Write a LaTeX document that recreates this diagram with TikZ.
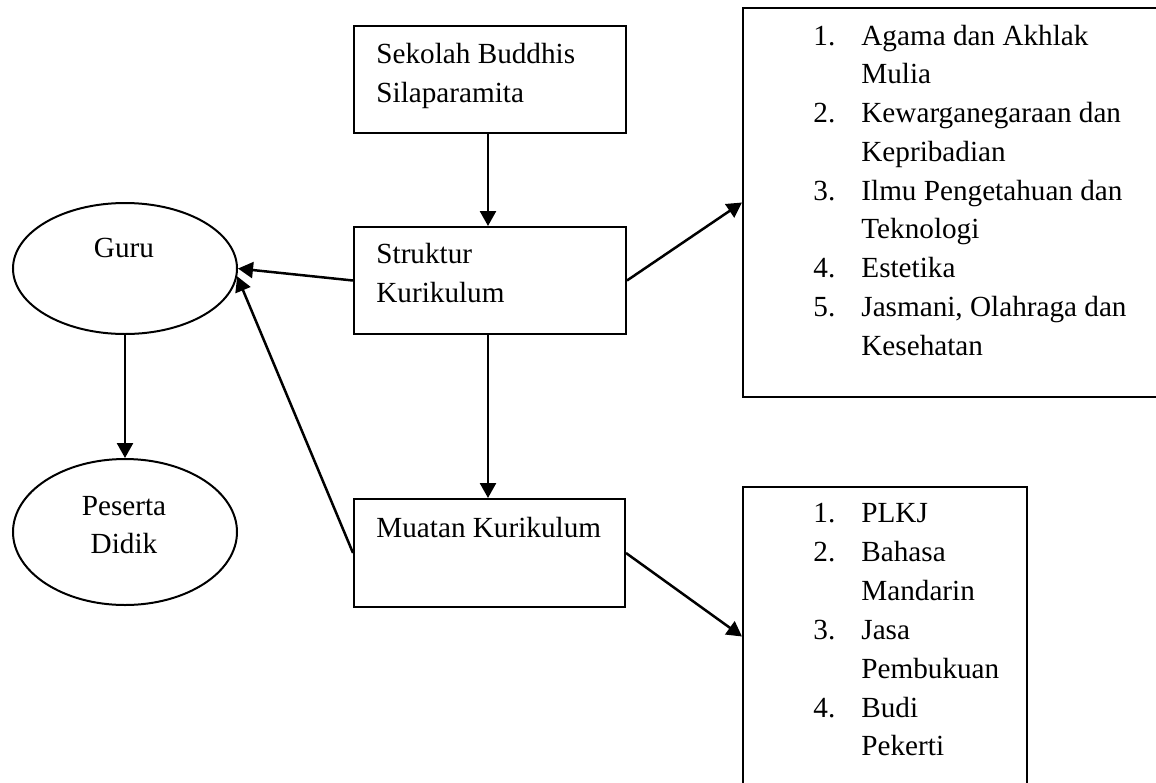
\documentclass[tikz,border=0pt]{standalone}
\usepackage{fontspec}
\setmainfont{Liberation Serif}
\usetikzlibrary{arrows.meta,calc,shapes.geometric}

\tikzset{
  box/.style={draw, line width=1pt, rectangle, inner sep=0pt},
  oval/.style={draw, line width=1pt, ellipse, inner sep=0pt},
  txt/.style={anchor=base west, inner sep=0pt, font=\fontsize{14.6}{19}\selectfont},
  ctxt/.style={anchor=base, inner sep=0pt, font=\fontsize{14.6}{19}\selectfont},
  link/.style={line width=1.25pt, -{Triangle[length=7.5pt,width=8pt]}},
}

\begin{document}
\begin{tikzpicture}[x=0.5pt,y=-0.5pt]
  \useasboundingbox (0,0) rectangle (1156,782);
  \clip (0,0) rectangle (1156,782);

  % boxes
  \node[box, minimum width=136pt, minimum height=53.5pt] (sekolah) at (490,79.5) {};
  \node[box, minimum width=136pt, minimum height=53.5pt] (struktur) at (490,280.5) {};
  \node[box, minimum width=135.5pt, minimum height=54pt] (muatan) at (489.5,553) {};
  \node[box, minimum width=213.5pt, minimum height=194.5pt] (inti) at (956.5,202.5) {};
  \node[box, minimum width=142pt, minimum height=156.5pt] (lokal) at (885,643.5) {};

  % ellipses
  \node[oval, minimum width=112pt, minimum height=65.5pt] (guru) at (125,268.5) {};
  \node[oval, minimum width=112pt, minimum height=73pt] (peserta) at (125,532) {};

  % labels inside boxes
  \node[txt] (t1a) at (376,63) {Sekolah Buddhis};
  \node[txt] (t1b) at (376,102) {Silaparamita};
  \node[txt] (t2a) at (376,263) {Struktur};
  \node[txt] (t2b) at (376,302) {Kurikulum};
  \node[txt] (t3a) at (376,537) {Muatan Kurikulum};

  \node[ctxt] (tg) at (124,257) {Guru};
  \node[ctxt] (tpa) at (124,515) {Peserta};
  \node[ctxt] (tpb) at (124,553) {Didik};

  % core curriculum groups
  \node[txt] (n1) at (813,45) {1.};
  \node[txt] (i1a) at (861,45) {Agama dan Akhlak};
  \node[txt] (i1b) at (861,83.5) {Mulia};
  \node[txt] (n2) at (813,122.5) {2.};
  \node[txt] (i2a) at (861,122.5) {Kewarganegaraan dan};
  \node[txt] (i2b) at (861,161) {Kepribadian};
  \node[txt] (n3) at (813,200) {3.};
  \node[txt] (i3a) at (861,200) {Ilmu Pengetahuan dan};
  \node[txt] (i3b) at (861,238.5) {Teknologi};
  \node[txt] (n4) at (813,277.5) {4.};
  \node[txt] (i4) at (861,277.5) {Estetika};
  \node[txt] (n5) at (813,316) {5.};
  \node[txt] (i5a) at (861,316) {Jasmani, Olahraga dan};
  \node[txt] (i5b) at (861,355) {Kesehatan};

  % local content subjects
  \node[txt] (m1) at (813,522) {1.};
  \node[txt] (j1) at (861,522) {PLKJ};
  \node[txt] (m2) at (813,561) {2.};
  \node[txt] (j2a) at (861,561) {Bahasa};
  \node[txt] (j2b) at (861,600) {Mandarin};
  \node[txt] (m3) at (813,639) {3.};
  \node[txt] (j3a) at (861,639) {Jasa};
  \node[txt] (j3b) at (861,678) {Pembukuan};
  \node[txt] (m4) at (813,717) {4.};
  \node[txt] (j4a) at (861,717) {Budi};
  \node[txt] (j4b) at (861,755) {Pekerti};

  % connectors
  \draw[link] (sekolah.south -| 488,0) -- (struktur.north -| 488,0);
  \draw[link] (struktur.west) -- (guru.east);
  \draw[link] (muatan.west) -- (guru.-4);
  \draw[link] (struktur.east) -- (inti.west);
  \draw[link] (muatan.east) -- ($(lokal.west)+(0,-7)$);
  \draw[link] (struktur.south -| 488,0) -- (muatan.north -| 488,0);
  \draw[link] (guru.south) -- (peserta.north);
\end{tikzpicture}
\end{document}
